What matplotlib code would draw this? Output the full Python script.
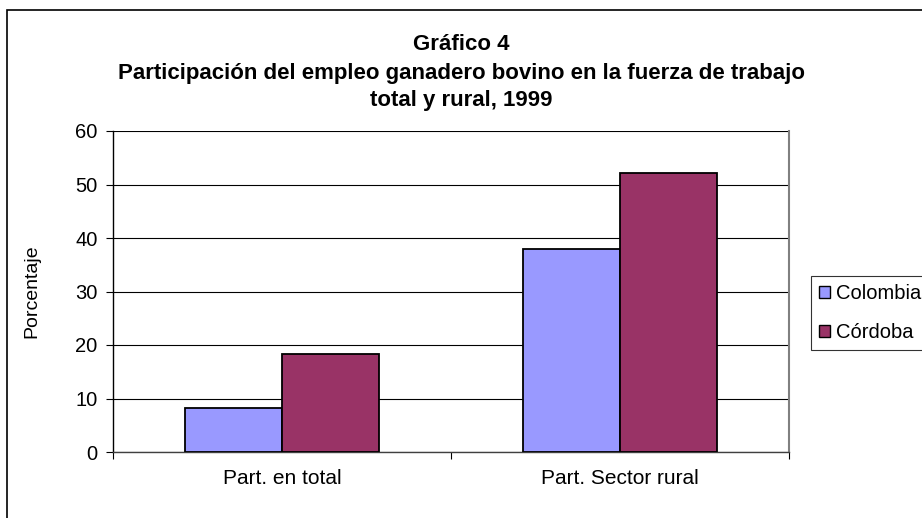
import matplotlib
matplotlib.use("Agg")
import matplotlib.pyplot as plt
import numpy as np
from matplotlib.patches import Rectangle, Patch

plt.rcParams['font.family'] = ['Liberation Sans', 'DejaVu Sans']

categories = ["Part. en total", "Part. Sector rural"]
colombia = [8.2, 38.0]
cordoba = [18.3, 52.1]
series_names = ["Colombia", "Córdoba"]
colors = ["#9999ff", "#993366"]

fig = plt.figure(figsize=(9.22, 5.18), dpi=100)

# chart area border (Excel style), runs off the right and bottom edges
fig.patches.append(Rectangle((7 / 922, -0.1), 1.2, 1 - 10 / 518 + 0.1,
                             transform=fig.transFigure, fill=False,
                             edgecolor="black", linewidth=1.2))

ax = fig.add_axes([113 / 922, 66 / 518, 676 / 922, 321 / 518])

x = np.arange(len(categories))
w = 1 / 3.5
ax.bar(x - w / 2, colombia, w, color=colors[0], edgecolor="black", linewidth=1.3, zorder=3)
ax.bar(x + w / 2, cordoba, w, color=colors[1], edgecolor="black", linewidth=1.3, zorder=3)

ax.set_xlim(-0.5, len(categories) - 0.5)
ax.set_ylim(0, 60)
ax.set_yticks(np.arange(0, 61, 10))
ax.yaxis.grid(True, color="black", linewidth=0.8, zorder=0)

ax.set_xticks(x)
ax.set_xticklabels(categories, fontsize=15)
ax.tick_params(axis="x", length=0, pad=12)
ax.set_xticks(np.arange(-0.5, len(categories), 1), minor=True)
ax.tick_params(axis="x", which="minor", length=5, direction="out", width=0.8)
ax.tick_params(axis="y", length=5, direction="out", width=0.8, labelsize=14.5, pad=6)

ax.spines["top"].set_visible(False)
ax.spines["right"].set_color("#808080")
ax.spines["right"].set_linewidth(1.5)
ax.spines["left"].set_linewidth(1.0)
ax.spines["bottom"].set_linewidth(1.0)
ax.spines["bottom"].set_color("#404040")

fig.text(32 / 922, 1 - 291 / 518, "Porcentaje", rotation=90, ha="center", va="center", fontsize=14)

fig.text(0.5, 1 - 45 / 518, "Gráfico 4", ha="center", va="center", fontsize=16, fontweight="bold")
fig.text(0.5, 1 - 73 / 518, "Participación del empleo ganadero bovino en la fuerza de trabajo",
         ha="center", va="center", fontsize=16, fontweight="bold")
fig.text(0.5, 1 - 100 / 518, "total y rural, 1999", ha="center", va="center",
         fontsize=16, fontweight="bold")

handles = [Patch(facecolor=c, edgecolor="black", linewidth=1.0) for c in colors]
leg = fig.legend(handles, series_names, loc="upper left",
                 bbox_to_anchor=(811 / 922, 1 - 276 / 518), fontsize=14.5,
                 frameon=True, fancybox=False, edgecolor="black",
                 handlelength=0.55, handleheight=0.55, handletextpad=0.3,
                 borderpad=0.4, labelspacing=1.0, borderaxespad=0)
leg.get_frame().set_linewidth(0.8)

fig.savefig("out.png", dpi=100)
